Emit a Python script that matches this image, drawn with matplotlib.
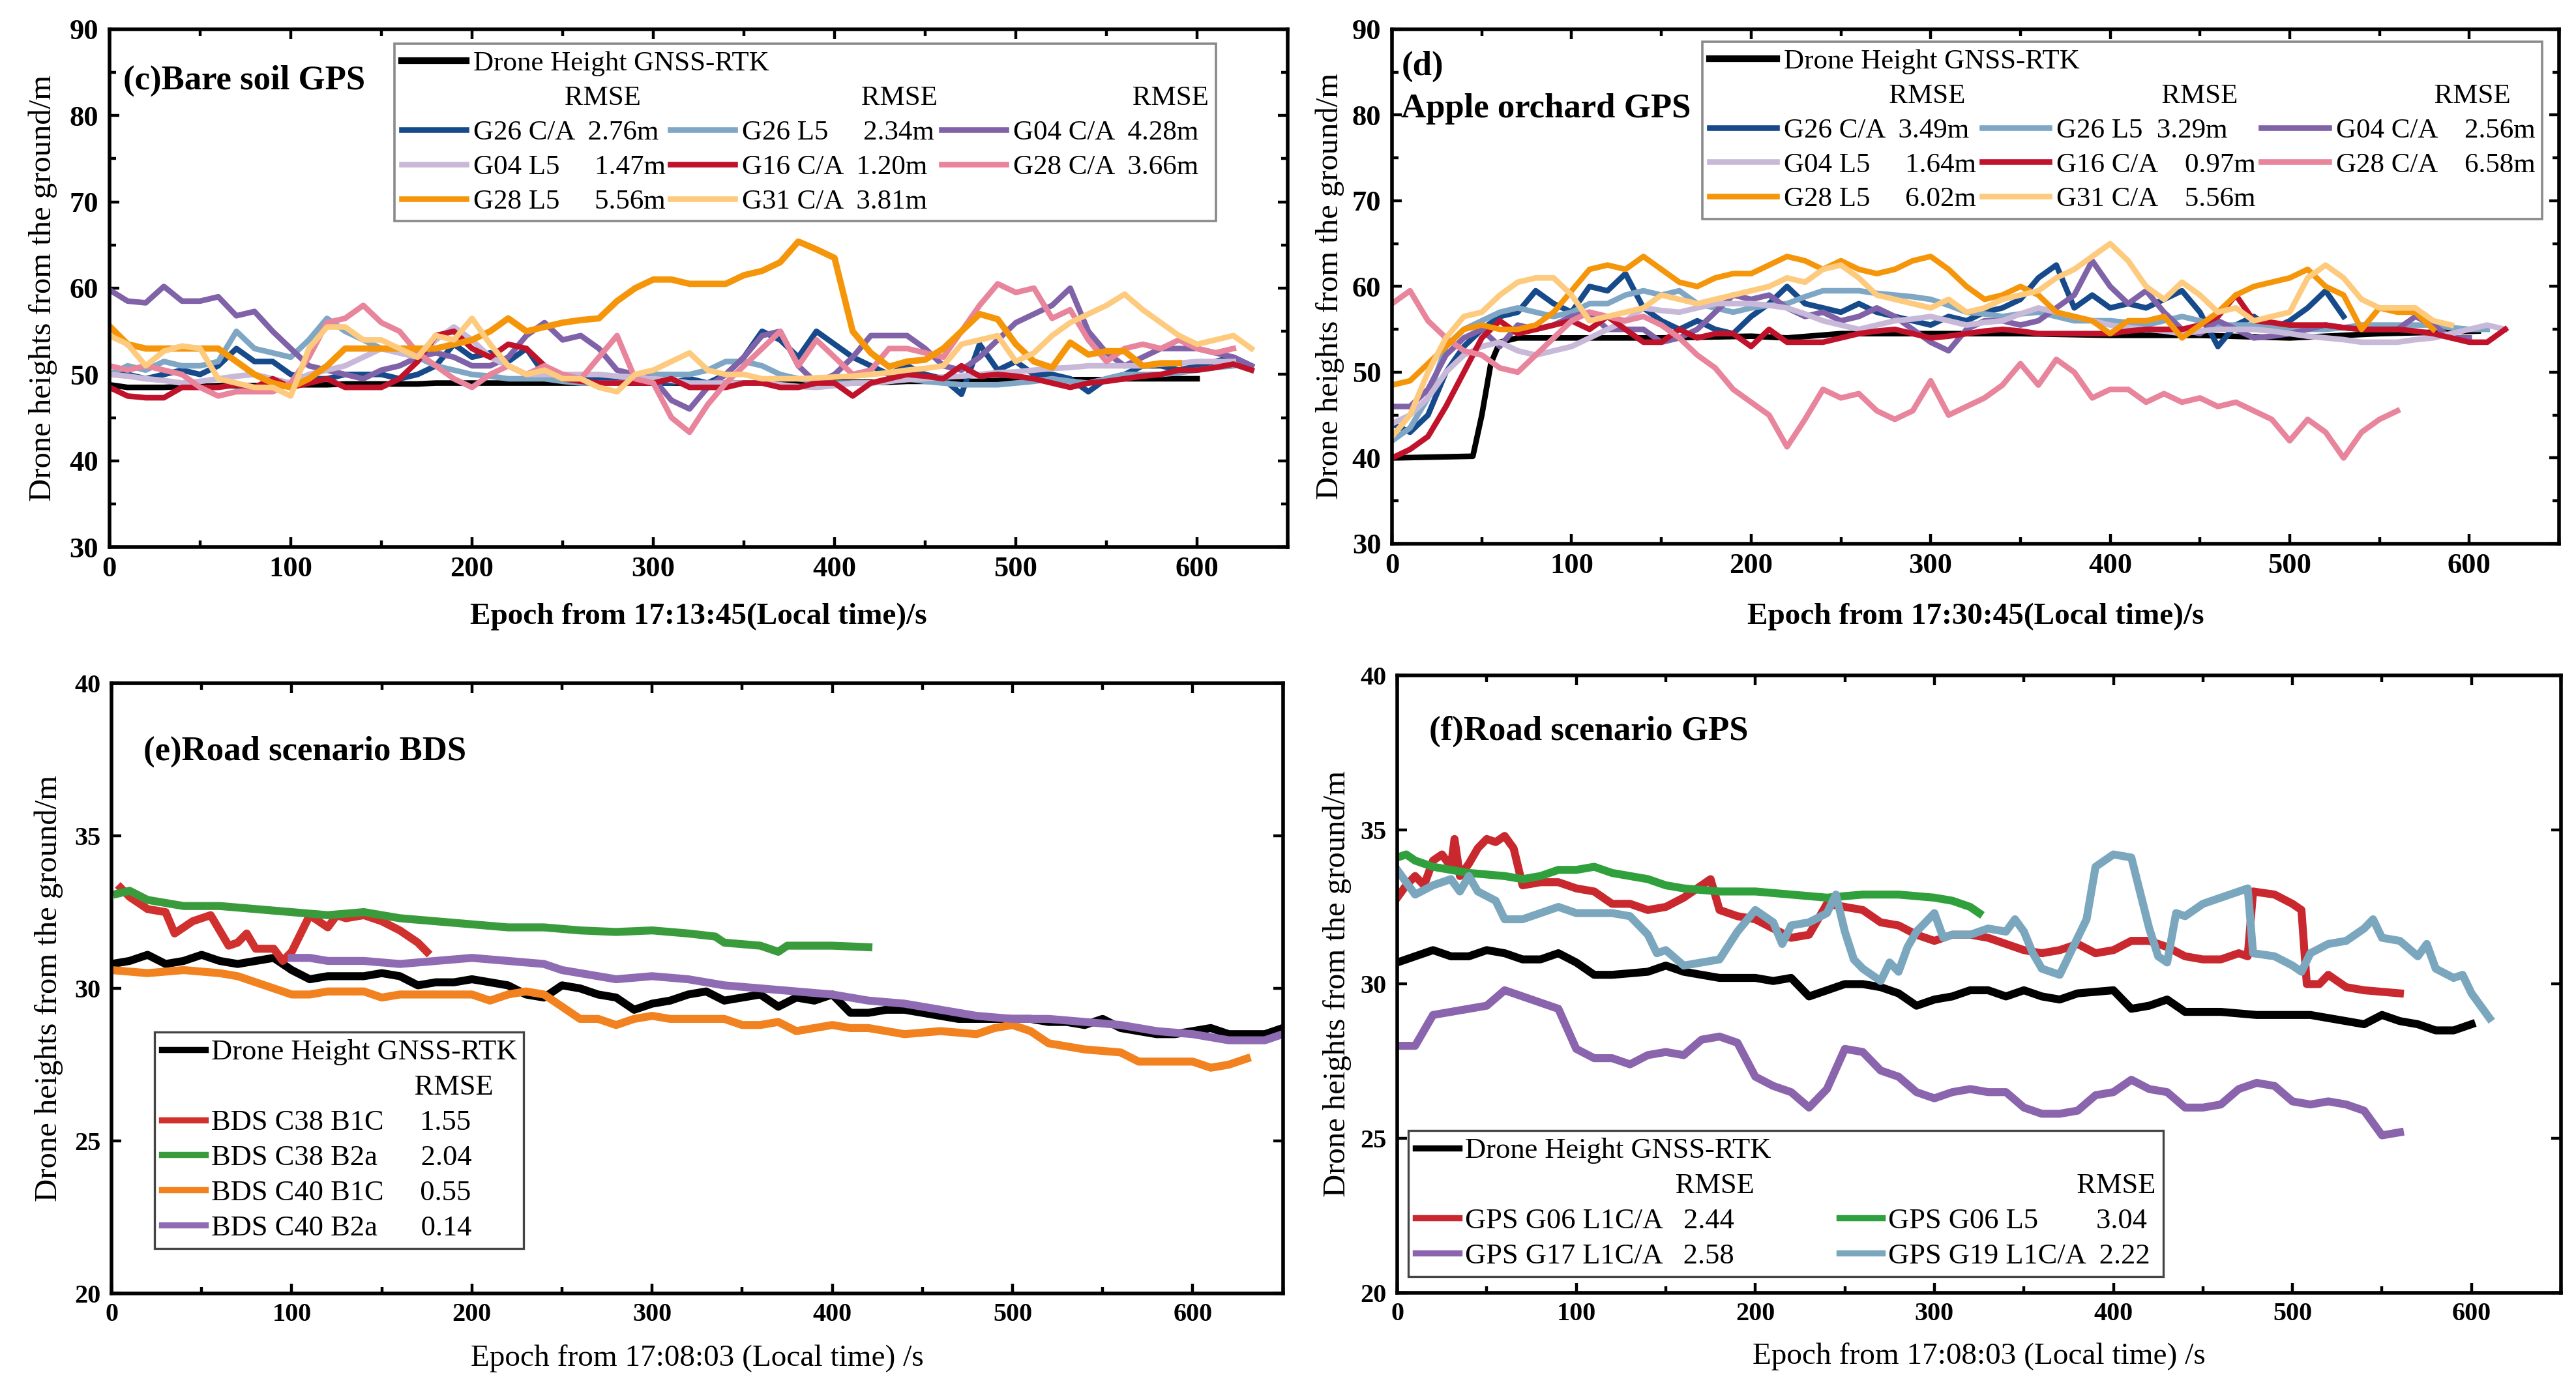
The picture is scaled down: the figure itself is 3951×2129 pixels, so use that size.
import numpy as np
import matplotlib
matplotlib.use('Agg')
import matplotlib.pyplot as plt
from matplotlib.lines import Line2D
from matplotlib.ticker import MultipleLocator

plt.rcParams['font.family'] = ['Liberation Serif', 'DejaVu Serif']

# ---------------- Panel (c) Bare soil GPS : 10 s grid from t=0 ----------------
c_rtk = [48.8, 48.5, 48.5, 48.5, 48.6, 48.6, 48.7, 48.7, 48.7, 48.8,
         48.8, 48.8, 48.8, 48.9, 48.9, 48.9, 48.9, 48.9, 49.0, 49.0,
         49.0, 49.0, 49.0, 49.0, 49.0, 49.0, 49.0, 49.0, 49.0, 49.0,
         49.0, 49.0, 49.0, 49.0, 49.0, 49.0, 49.0, 49.0, 49.0, 49.0,
         49.1, 49.1, 49.1, 49.1, 49.2, 49.2, 49.2, 49.2, 49.2, 49.3,
         49.3, 49.3, 49.3, 49.4, 49.4, 49.4, 49.5, 49.5, 49.5, 49.5, 49.5]
c_g26ca = [50, 50, 49.5, 50, 50.5, 50, 51, 53, 51.5, 51.5,
           50, 49.5, 49.5, 50, 50, 50, 49.5, 50, 51, 53.5,
           52, 52.5, 51.5, 53, 50, 50, 50, 49.5, 49.5, 49,
           49, 49, 49.5, 49, 50, 52, 55, 54, 52, 55,
           53.5, 52, 51, 50, 51, 50, 49.5, 47.7, 53.5, 50.5,
           51.5, 50, 50, 49.5, 48, 49.5, 50, 51, 51, 50.5,
           51, 51.5, 52, 51]
c_g26l5 = [50, 51, 50.5, 51.5, 51, 51, 51.5, 55, 53, 52.5,
           52, 54, 56.5, 55, 54, 53, 52.5, 52, 51, 50.5,
           50, 49.8, 49.5, 49.5, 49.5, 49.2, 49, 49, 49, 49.5,
           50, 50, 50, 50.5, 51.5, 51.5, 51, 50, 49.5, 49.2,
           49, 49, 49, 49.2, 49.5, 49.2, 49, 48.8, 48.8, 48.8,
           49, 49.2, 49.5, 49.2, 49, 49.5, 50, 50, 50, 50.2,
           50.5, 50.8, 51]
c_g04ca = [59.8, 58.5, 58.3, 60.2, 58.5, 58.5, 59, 56.8, 57.3, 55,
           53, 51, 50.5, 50, 49.5, 50.5, 51, 52, 52.5, 52,
           51, 51, 52, 54.5, 56, 54, 54.5, 53, 50.5, 50,
           49.5, 47, 46, 48.5, 50, 52, 54.5, 55, 51, 49,
           50, 52, 54.5, 54.5, 54.5, 53, 51, 50.5, 52, 54,
           56, 57, 58, 60, 55, 52.5, 51, 52, 53, 53,
           53, 52.5, 52, 51]
c_g04l5 = [50, 49.8, 49.5, 49.3, 49, 49.2, 49.5, 49.8, 50, 49.5,
           49, 50, 50.5, 51, 52, 53, 52.5, 52, 54, 55.5,
           54, 52, 51, 50, 50, 50, 50, 50, 49.8, 49.7,
           49.5, 49.3, 49, 49, 49, 49, 49, 48.8, 48.6, 48.5,
           48.7, 49, 49, 49.2, 49.4, 49.5, 49.7, 49.8, 50, 50.2,
           50.3, 50.5, 50.7, 50.8, 51, 51, 51, 51, 51.2, 51.3,
           51.5, 51.5, 51.5]
c_g16ca = [48.5, 47.5, 47.3, 47.3, 48.5, 48.5, 48.5, 48.8, 48.5, 49.5,
           48.5, 49, 49.5, 48.5, 48.5, 48.5, 49.5, 51.5, 54.5, 55,
           53, 52, 53.5, 53, 51, 49.5, 49.2, 49, 49, 49,
           49, 49.5, 48.5, 48.5, 48.5, 49, 49, 48.5, 48.5, 49,
           49, 47.5, 49, 49.5, 50, 49.8, 49.5, 51, 49.8, 50,
           49.8, 49.5, 49, 48.5, 49, 49.2, 49.5, 49.8, 50, 50.5,
           50.5, 50.8, 51.2, 50.5]
c_g28ca = [51, 50.5, 51, 50.5, 50, 48.5, 47.5, 48, 48, 48,
           49, 52, 56, 56.5, 58, 56, 55, 52.5, 51, 49.5,
           48.5, 50, 51, 50, 51, 50, 49.5, 52, 54.5, 49.5,
           49, 45, 43.3, 46.5, 49, 51, 53, 55, 51, 54,
           52, 50, 50.5, 53, 53, 52.5, 52, 55, 58, 60.5,
           59.5, 60, 56.5, 57.5, 54, 51.5, 53, 53.5, 53, 54,
           53, 52.5, 53]
c_g28l5 = [55.6, 53.5, 53, 53, 53, 53, 53, 51.5, 50, 49,
           48.5, 49.5, 51, 53, 53, 53, 53, 53, 53, 53.5,
           54, 55, 56.5, 55, 55.5, 56, 56.3, 56.5, 58.5, 60,
           61, 61, 60.5, 60.5, 60.5, 61.5, 62, 63, 65.4, 64.5,
           63.5, 55, 52.5, 50.9, 51.5, 51.7, 53, 55, 57, 56.4,
           53.5, 51.5, 50.8, 53.7, 52.3, 52.7, 52.7, 51, 51.3, 51.3]
c_g31ca = [54.5, 53.5, 51, 52.7, 53.3, 53, 49.5, 49, 48.5, 48.5,
           47.5, 53, 55.5, 55.5, 54, 54, 53, 52, 54.5, 54,
           56.5, 53.5, 51, 50, 50.5, 49.5, 49.5, 48.5, 48, 50,
           50.5, 51.5, 52.5, 50.5, 50, 50, 49.5, 49.5, 49.5, 49.6,
           49.7, 49.8, 50, 50.2, 50.5, 50.7, 51, 53.5, 54, 54.5,
           51.5, 52.5, 54.5, 56, 57, 58, 59.3, 57.5, 56, 54.5,
           53.5, 54, 54.5, 53]

# ---------------- Panel (d) Apple orchard GPS ----------------
d_rtk_t = [0, 45, 50, 55, 60, 70, 100, 150, 200, 220, 250, 300, 350, 400, 450, 500, 550, 590, 605]
d_rtk_h = [40, 40.2, 45, 51, 53.5, 54, 54, 54, 54.2, 54, 54.5, 54.5, 54.5, 54.3, 54.3, 54, 54.5, 54.7, 54.8]
d_g26ca = [44, 43, 45, 50, 53, 55, 56.5, 57, 59.5, 58,
           57, 60, 59.5, 61.5, 57.5, 56, 55, 56, 55, 54.5,
           56.5, 58, 60, 58, 57.5, 57, 58, 57, 56.5, 56,
           55.5, 56.5, 56, 57, 57.5, 58.5, 61, 62.5, 57.5, 59,
           57.5, 58, 57.5, 58.5, 59.5, 57, 53, 55.5, 56.5, 55,
           56, 57.5, 59.5, 56.5]
d_g26l5 = [42, 43.5, 47, 53, 55, 56, 57, 57.5, 57, 56.5,
           57, 58, 58, 59, 59.5, 59, 59.5, 58, 57.5, 57,
           57.5, 57.8, 58, 58.8, 59.5, 59.5, 59.5, 59.2, 59, 58.8,
           58.5, 57.8, 57, 56.8, 56.5, 56.8, 57, 56.5, 56, 56,
           56, 55.8, 55.5, 56, 56.5, 56, 55.5, 55.5, 55.5, 55.2,
           55, 55, 55, 55.2, 55.5, 55.5, 55.5, 55.5, 55.5, 55.2,
           55, 55]
d_g04ca = [46, 46, 48, 52, 54, 55, 53, 55.5, 55, 55.5,
           56.5, 57, 55, 55, 55, 53.5, 54, 55, 57, 59,
           58.5, 59, 57.5, 56.5, 57, 56, 56.5, 57.5, 56.5, 55,
           53.5, 52.5, 55, 56, 56, 55.5, 56, 57.5, 59, 63,
           60, 58, 59.5, 57, 55, 54.5, 56, 55, 54, 54.2,
           54.5, 55, 55.5, 55.2, 55, 55, 55, 56.5, 55.5, 54, 54]
d_g04l5 = [44, 45, 47, 50, 52, 53, 53.5, 52.5, 52, 52.5,
           53, 54, 55, 56, 57.5, 57.2, 57, 57.5, 58, 58,
           58, 57.8, 57.5, 56.8, 56, 55.5, 55, 55.5, 56, 56.2,
           56.5, 56, 55.5, 55.8, 56, 56.8, 57.5, 57, 56.5, 56,
           55.5, 55.2, 55, 54.8, 54.5, 54.8, 55, 55, 55, 54.8,
           54.5, 54.2, 54, 53.8, 53.5, 53.5, 53.5, 53.8, 54, 54.5,
           55, 55.5, 55]
d_g16ca = [40, 41, 42.5, 46, 50, 54, 56, 54.5, 55, 55.5,
           56, 55, 56.5, 55, 53.5, 53.5, 55, 54, 54.5, 54.5,
           53, 55, 53.5, 53.5, 53.5, 54, 54.5, 54.8, 55, 54.5,
           54, 54.2, 54.5, 54.8, 55, 54.8, 54.5, 54.5, 54.5, 54.5,
           54.5, 54.8, 55, 55, 55, 55.5, 56.5, 59, 56, 55.8,
           55.5, 55.5, 55.5, 55.2, 55, 55, 55, 54.8, 54.5, 54,
           53.5, 53.5, 55]
d_g28ca = [58, 59.5, 56, 54, 52.5, 52, 50.5, 50, 52, 54,
           56, 57, 56.5, 56, 56.5, 55.5, 54, 52, 50.5, 48,
           46.5, 45, 41.3, 44.5, 48, 47, 47.5, 45.5, 44.5, 45.5,
           49, 45, 46, 47, 48.5, 51, 48.5, 51.5, 50, 47,
           48, 48, 46.5, 47.5, 46.5, 47, 46, 46.5, 45.5, 44.5,
           42, 44.5, 43, 40, 43, 44.5, 45.5]
d_g28l5 = [48.5, 49, 51, 53, 55, 55.5, 55, 55, 55.5, 57,
           59.5, 62, 62.5, 62, 63.5, 62, 60.5, 60, 61, 61.5,
           61.5, 62.5, 63.5, 63, 62, 63, 62, 61.5, 62, 63,
           63.5, 62, 60, 58.5, 59, 60, 59, 57, 56.5, 56,
           54.5, 56, 56, 56.5, 54, 55.5, 57, 59, 60, 60.5,
           61, 62, 60, 59, 55, 57.5, 57, 57, 55]
d_g31ca = [42.5, 45, 50, 54, 56.5, 57, 59, 60.5, 61, 61,
           59, 56, 56.5, 57, 57.5, 59, 58.5, 58, 58.5, 59,
           59.5, 60, 61, 60.5, 62, 62.5, 61, 59, 58.5, 58,
           57.5, 58.5, 57, 57.5, 58.5, 59, 59.5, 61, 62, 63.5,
           65, 63, 60, 58.5, 60.5, 59, 57, 57.5, 56, 56.5,
           57, 61, 62.5, 61, 58.5, 57.5, 57.5, 57.5, 56, 55.5]

# ---------------- Panel (e) Road scenario BDS ----------------
e_rtk = [30.8, 30.9, 31.1, 30.8, 30.9, 31.1, 30.9, 30.8, 30.9, 31.0,
         30.6, 30.3, 30.4, 30.4, 30.4, 30.5, 30.4, 30.1, 30.2, 30.2,
         30.3, 30.2, 30.1, 29.8, 29.7, 30.1, 30.0, 29.8, 29.7, 29.3,
         29.5, 29.6, 29.8, 29.9, 29.6, 29.7, 29.8, 29.4, 29.7, 29.6,
         29.8, 29.2, 29.2, 29.3, 29.3, 29.2, 29.1, 29.0, 29.0, 29.0,
         29.0, 29.0, 28.9, 28.9, 28.8, 29.0, 28.7, 28.6, 28.5, 28.5,
         28.6, 28.7, 28.5, 28.5, 28.5, 28.7]
e_c38b1c_t = [5, 10, 20, 30, 35, 45, 55, 60, 65, 70, 75, 80, 90, 95, 100, 105, 110, 120, 125, 130, 140, 150, 160, 170, 175]
e_c38b1c_h = [33.3, 33.0, 32.6, 32.5, 31.8, 32.2, 32.4, 31.9, 31.4, 31.5, 31.8, 31.3, 31.3, 30.9, 31.2, 31.8, 32.4, 32.0, 32.4, 32.3, 32.4, 32.2, 31.9, 31.5, 31.2]
e_c38b2a_t = [3, 10, 20, 30, 40, 60, 80, 100, 120, 140, 160, 180, 200, 220, 240, 260, 280, 300, 320, 335, 340, 360, 370, 375, 400, 420]
e_c38b2a_h = [33.1, 33.2, 32.9, 32.8, 32.7, 32.7, 32.6, 32.5, 32.4, 32.5, 32.3, 32.2, 32.1, 32.0, 32.0, 31.9, 31.85, 31.9, 31.8, 31.7, 31.5, 31.4, 31.2, 31.4, 31.4, 31.35]
e_c40b1c = [30.6, 30.55, 30.5, 30.55, 30.6, 30.55, 30.5, 30.4, 30.2, 30.0,
            29.8, 29.8, 29.9, 29.9, 29.9, 29.7, 29.8, 29.8, 29.8, 29.8,
            29.8, 29.6, 29.8, 29.9, 29.8, 29.4, 29.0, 29.0, 28.8, 29.0,
            29.1, 29.0, 29.0, 29.0, 29.0, 28.8, 28.8, 28.9, 28.6, 28.7,
            28.8, 28.7, 28.7, 28.6, 28.5, 28.55, 28.6, 28.55, 28.5, 28.7,
            28.8, 28.6, 28.2, 28.1, 28.0, 27.95, 27.9, 27.6, 27.6, 27.6,
            27.6, 27.4, 27.5, 27.7]
e_c40b2a = [31.0, 31.0, 30.9, 30.9, 30.9, 30.85, 30.8, 30.85, 30.9, 30.95,
            31.0, 30.95, 30.9, 30.85, 30.8, 30.6, 30.5, 30.4, 30.3, 30.35,
            30.4, 30.35, 30.3, 30.2, 30.1, 30.05, 30.0, 29.95, 29.9, 29.85,
            29.8, 29.7, 29.6, 29.55, 29.5, 29.4, 29.3, 29.2, 29.1, 29.05,
            29.0, 29.0, 29.0, 28.95, 28.9, 28.85, 28.8, 28.7, 28.6, 28.55,
            28.5, 28.4, 28.3, 28.3, 28.3, 28.5]

# ---------------- Panel (f) Road scenario GPS ----------------
f_rtk = [30.7, 30.9, 31.1, 30.9, 30.9, 31.1, 31.0, 30.8, 30.8, 31.0,
         30.7, 30.3, 30.3, 30.35, 30.4, 30.6, 30.4, 30.3, 30.2, 30.2,
         30.2, 30.1, 30.2, 29.6, 29.8, 30.0, 30.0, 29.9, 29.7, 29.3,
         29.5, 29.6, 29.8, 29.8, 29.6, 29.8, 29.6, 29.5, 29.7, 29.75,
         29.8, 29.2, 29.3, 29.5, 29.1, 29.1, 29.1, 29.05, 29.0, 29.0,
         29.0, 29.0, 28.9, 28.8, 28.7, 29.0, 28.8, 28.7, 28.5, 28.5, 28.7]
f_g06l1_t = [0, 5, 10, 15, 20, 25, 30, 32, 35, 40, 45, 50, 55, 60, 65, 70, 80, 90, 100, 110,
             120, 130, 140, 150, 160, 170, 175, 180, 190, 200, 210, 220, 230, 240, 250, 260, 270, 280, 290, 300,
             310, 320, 330, 340, 350, 360, 370, 380, 390, 400, 410, 420, 430, 440, 450, 460, 470, 475, 478, 490,
             500, 505, 508, 515, 520, 530, 540, 560]
f_g06l1_h = [32.8, 33.2, 33.5, 33.2, 34.0, 34.2, 33.8, 34.7, 33.5, 33.9, 34.4, 34.7, 34.6, 34.8, 34.4, 33.2, 33.3, 33.3, 33.1, 33.0,
             32.6, 32.6, 32.4, 32.5, 32.8, 33.2, 33.4, 32.4, 32.2, 32.1, 31.8, 31.5, 31.6, 32.6, 32.5, 32.4, 32.0, 31.9, 31.6, 31.4,
             31.6, 31.6, 31.5, 31.3, 31.1, 31.0, 31.1, 31.3, 31.0, 31.1, 31.4, 31.4, 31.2, 30.9, 30.8, 30.8, 31.0, 30.9, 33.0, 32.9,
             32.6, 32.4, 30.0, 30.0, 30.3, 29.9, 29.8, 29.7]
f_g06l5_t = [0, 5, 10, 20, 30, 40, 60, 70, 80, 90, 100, 110, 120, 140, 150, 160, 180, 200, 220, 240, 260, 280, 300, 310, 320, 325]
f_g06l5_h = [34.1, 34.2, 34.0, 33.8, 33.7, 33.6, 33.5, 33.4, 33.5, 33.7, 33.7, 33.8, 33.6, 33.4, 33.2, 33.1, 33.0, 33.0, 32.9, 32.8, 32.9, 32.9, 32.8, 32.7, 32.5, 32.3]
f_g17l1 = [28.0, 28.0, 29.0, 29.1, 29.2, 29.3, 29.8, 29.6, 29.4, 29.2,
           27.9, 27.6, 27.6, 27.4, 27.7, 27.8, 27.7, 28.2, 28.3, 28.1,
           27.0, 26.7, 26.5, 26.0, 26.6, 27.9, 27.8, 27.2, 27.0, 26.5,
           26.3, 26.5, 26.6, 26.5, 26.5, 26.0, 25.8, 25.8, 25.9, 26.4,
           26.5, 26.9, 26.6, 26.5, 26.0, 26.0, 26.1, 26.6, 26.8, 26.7,
           26.2, 26.1, 26.2, 26.1, 25.9, 25.1, 25.2]
f_g19l1_t = [0, 5, 10, 20, 30, 35, 40, 45, 55, 60, 70, 80, 90, 100, 110, 120, 130, 140, 145, 150,
             160, 170, 180, 190, 200, 210, 215, 220, 230, 240, 245, 250, 255, 260, 270, 275, 280, 285, 290, 300,
             305, 310, 320, 330, 340, 345, 350, 355, 360, 370, 380, 385, 390, 400, 410, 420, 425, 430, 435, 440,
             450, 460, 470, 475, 478, 490, 500, 505, 510, 520, 530, 540, 545, 550, 560, 570, 575, 580, 590, 595,
             600, 610]
f_g19l1_h = [33.7, 33.3, 32.9, 33.2, 33.4, 33.0, 33.5, 33.0, 32.7, 32.1, 32.1, 32.3, 32.5, 32.3, 32.3, 32.3, 32.2, 31.6, 31.0, 31.1,
             30.6, 30.7, 30.8, 31.7, 32.4, 32.0, 31.3, 31.9, 32.0, 32.3, 32.9, 31.7, 30.8, 30.5, 30.1, 30.7, 30.4, 31.2, 31.7, 32.3,
             31.5, 31.6, 31.6, 31.8, 31.7, 32.1, 31.7, 31.0, 30.5, 30.3, 31.5, 32.1, 33.8, 34.2, 34.1, 31.8, 30.9, 30.7, 32.3, 32.2,
             32.6, 32.8, 33.0, 33.1, 31.0, 30.9, 30.6, 30.4, 31.0, 31.3, 31.4, 31.8, 32.1, 31.5, 31.4, 30.9, 31.3, 30.5, 30.2, 30.3,
             29.7, 28.9]

# legend texts
c_labels = ["G26 C/A  2.76m", "G04 L5     1.47m", "G28 L5     5.56m",
            "G26 L5     2.34m", "G16 C/A  1.20m", "G31 C/A  3.81m",
            "G04 C/A  4.28m", "G28 C/A  3.66m"]
d_labels = ["G26 C/A  3.49m", "G04 L5     1.64m", "G28 L5     6.02m",
            "G26 L5  3.29m", "G16 C/A    0.97m", "G31 C/A    5.56m",
            "G04 C/A    2.56m", "G28 C/A    6.58m"]
e_labels = ["BDS C38 B1C     1.55", "BDS C38 B2a      2.04", "BDS C40 B1C     0.55", "BDS C40 B2a      0.14"]
f_labels = ["GPS G06 L1C/A   2.44", "GPS G17 L1C/A   2.58", "GPS G06 L5        3.04", "GPS G19 L1C/A  2.22"]

COL = dict(g26ca='#164a8a', g26l5='#7fa7c5', g04ca='#7f62a8', g04l5='#c9b9d9',
           g16ca='#c0122b', g28ca='#e8849b', g28l5='#f5960a', g31ca='#fdca7e')


def tgrid(start, vals):
    return start + 10 * np.arange(len(vals))


fig = plt.figure(figsize=(19.755, 10.645), dpi=200)
axc = fig.add_axes([0.0425, 0.6059, 0.4574, 0.3730])
axd = fig.add_axes([0.5404, 0.6083, 0.4530, 0.3706])
axe = fig.add_axes([0.0433, 0.0681, 0.4547, 0.4396])
axf = fig.add_axes([0.5424, 0.0686, 0.4518, 0.4448])


def style(ax, ylim, ymaj, ymin, fs, xlabel, xbold, xly, ylx):
    ax.set_xlim(0, 650)
    ax.set_ylim(*ylim)
    ax.xaxis.set_major_locator(MultipleLocator(100))
    ax.xaxis.set_minor_locator(MultipleLocator(50))
    ax.yaxis.set_major_locator(MultipleLocator(ymaj))
    if ymin:
        ax.yaxis.set_minor_locator(MultipleLocator(ymin))
    ax.tick_params(which='both', direction='in', top=True, right=True, width=1.6)
    ax.tick_params(which='major', length=5.5)
    ax.tick_params(which='minor', length=3.5)
    ax.tick_params(axis='x', pad=5)
    ax.tick_params(axis='y', pad=6)
    for lab in ax.get_xticklabels() + ax.get_yticklabels():
        lab.set_fontweight('bold')
        lab.set_fontsize(fs)
    for sp in ax.spines.values():
        sp.set_linewidth(2.0)
    ax.set_xlabel(xlabel, fontsize=17, fontweight='bold' if xbold else 'normal')
    ax.xaxis.set_label_coords(0.5, xly)
    ax.set_ylabel('Drone heights from the ground/m', fontsize=17.5)
    ax.yaxis.set_label_coords(ylx, 0.5)


LW = 3.1
# ---- (c)
axc.plot(tgrid(0, c_rtk), c_rtk, color='black', lw=LW)
axc.plot(tgrid(0, c_g26ca), c_g26ca, color=COL['g26ca'], lw=LW)
axc.plot(tgrid(0, c_g26l5), c_g26l5, color=COL['g26l5'], lw=LW)
axc.plot(tgrid(0, c_g04ca), c_g04ca, color=COL['g04ca'], lw=LW)
axc.plot(tgrid(0, c_g04l5), c_g04l5, color=COL['g04l5'], lw=LW)
axc.plot(tgrid(0, c_g16ca), c_g16ca, color=COL['g16ca'], lw=LW)
axc.plot(tgrid(0, c_g28ca), c_g28ca, color=COL['g28ca'], lw=LW)
axc.plot(tgrid(0, c_g28l5), c_g28l5, color=COL['g28l5'], lw=LW + 0.4)
axc.plot(tgrid(0, c_g31ca), c_g31ca, color=COL['g31ca'], lw=LW)
style(axc, (30, 90), 10, 5, 16, 'Epoch from 17:13:45(Local time)/s', True, -0.108, -0.044)
axc.text(0.0116, 0.90, '(c)Bare soil GPS', transform=axc.transAxes, fontsize=19,
         fontweight='bold', va='center', ha='left')

# ---- (d)
axd.plot(d_rtk_t, d_rtk_h, color='black', lw=LW)
axd.plot(tgrid(0, d_g26ca), d_g26ca, color=COL['g26ca'], lw=LW)
axd.plot(tgrid(0, d_g26l5), d_g26l5, color=COL['g26l5'], lw=LW)
axd.plot(tgrid(0, d_g04ca), d_g04ca, color=COL['g04ca'], lw=LW)
axd.plot(tgrid(0, d_g04l5), d_g04l5, color=COL['g04l5'], lw=LW)
axd.plot(tgrid(0, d_g16ca), d_g16ca, color=COL['g16ca'], lw=LW)
axd.plot(tgrid(0, d_g28ca), d_g28ca, color=COL['g28ca'], lw=LW)
axd.plot(tgrid(0, d_g28l5), d_g28l5, color=COL['g28l5'], lw=LW)
axd.plot(tgrid(0, d_g31ca), d_g31ca, color=COL['g31ca'], lw=LW)
style(axd, (30, 90), 10, 5, 16, 'Epoch from 17:30:45(Local time)/s', True, -0.115, -0.041)
axd.text(0.008, 0.928, '(d)', transform=axd.transAxes, fontsize=19,
         fontweight='bold', va='center', ha='left')
axd.text(0.008, 0.845, 'Apple orchard GPS', transform=axd.transAxes, fontsize=19,
         fontweight='bold', va='center', ha='left')


def blank():
    return Line2D([], [], linestyle='none')


def top_legend(ax, labels, hdrs, box, fs, hl):
    keys = ['g26ca', 'g04l5', 'g28l5', 'g26l5', 'g16ca', 'g31ca', 'g04ca', 'g28ca']
    hs = [Line2D([], [], color=COL[k], lw=LW) for k in keys]
    handles = [blank(), blank()] + hs[0:3] + [blank(), blank()] + hs[3:6] + [blank(), blank()] + hs[6:8] + [blank()]
    labs = [' ', hdrs[0]] + labels[0:3] + [' ', hdrs[1]] + labels[3:6] + [' ', hdrs[2]] + labels[6:8] + [' ']
    x0, y1, x1 = box
    leg = ax.legend(handles, labs, ncol=3, loc='upper left', bbox_to_anchor=(x0, y1, x1 - x0, 0),
                    mode='expand', borderaxespad=0, fontsize=fs, handlelength=hl, handletextpad=0.25,
                    labelspacing=0.32, borderpad=0.25, columnspacing=0.5, frameon=True, fancybox=False,
                    edgecolor='#8a8a8a', framealpha=1)
    leg.get_frame().set_linewidth(1.3)
    ax.add_artist(leg)
    leg2 = ax.legend([Line2D([], [], color='black', lw=LW + 0.6)], ['Drone Height GNSS-RTK'],
                     loc='upper left', bbox_to_anchor=(x0, y1), borderaxespad=0, fontsize=fs,
                     handlelength=hl, handletextpad=0.25, borderpad=0.25, frameon=False)
    return leg2


top_legend(axc, c_labels, [' ' * 13 + 'RMSE', ' ' * 17 + 'RMSE', ' ' * 17 + 'RMSE'],
           (0.242, 0.972, 0.939), 15.5, 2.3)
top_legend(axd, d_labels, [' ' * 15 + 'RMSE', ' ' * 15 + 'RMSE', ' ' * 14 + 'RMSE'],
           (0.266, 0.976, 0.9855), 15.5, 2.4)

LW2 = 4.4
# ---- (e)
le0, = axe.plot(tgrid(0, e_rtk), e_rtk, color='black', lw=LW2)
le1, = axe.plot(e_c38b1c_t, e_c38b1c_h, color='#d0302e', lw=LW2)
le2, = axe.plot(e_c38b2a_t, e_c38b2a_h, color='#3a9b3c', lw=LW2)
le3, = axe.plot(tgrid(0, e_c40b1c), e_c40b1c, color='#f2811f', lw=LW2)
le4, = axe.plot(tgrid(100, e_c40b2a), e_c40b2a, color='#8e6bb3', lw=LW2)
style(axe, (20, 40), 5, None, 14.5, 'Epoch from 17:08:03 (Local time) /s', False, -0.084, -0.041)
axe.text(0.027, 0.888, '(e)Road scenario BDS', transform=axe.transAxes, fontsize=19,
         fontweight='bold', va='center', ha='left')
hs = [Line2D([], [], color=l.get_color(), lw=3.4) for l in (le0, le1, le2, le3, le4)]
lege = axe.legend([hs[0], blank()] + hs[1:], ['Drone Height GNSS-RTK', ' ' * 28 + 'RMSE'] + e_labels,
                  loc='upper left', bbox_to_anchor=(0.0367, 0.4284, 0.3153, 0), mode='expand',
                  borderaxespad=0, fontsize=16, handlelength=1.5, handletextpad=0.2, labelspacing=0.31,
                  borderpad=0.25, frameon=True, fancybox=False, edgecolor='#444444', framealpha=1)
lege.get_frame().set_linewidth(1.2)

# ---- (f)
lf0, = axf.plot(tgrid(0, f_rtk), f_rtk, color='black', lw=LW2)
lf1, = axf.plot(f_g06l1_t, f_g06l1_h, color='#c8282e', lw=LW2)
lf2, = axf.plot(f_g06l5_t, f_g06l5_h, color='#2fa03b', lw=LW2)
lf3, = axf.plot(tgrid(0, f_g17l1), f_g17l1, color='#8a65ad', lw=LW2)
lf4, = axf.plot(f_g19l1_t, f_g19l1_h, color='#7ba7be', lw=LW2)
style(axf, (20, 40), 5, None, 14.5, 'Epoch from 17:08:03 (Local time) /s', False, -0.080, -0.039)
axf.text(0.0275, 0.909, '(f)Road scenario GPS', transform=axf.transAxes, fontsize=19,
         fontweight='bold', va='center', ha='left')
hf = [Line2D([], [], color=l.get_color(), lw=3.4) for l in (lf0, lf1, lf2, lf3, lf4)]
legf = axf.legend([hf[0], blank(), hf[1], hf[3], blank(), blank(), hf[2], hf[4]],
                  ['Drone Height GNSS-RTK', ' ' * 29 + 'RMSE', f_labels[0], f_labels[1],
                   ' ', ' ' * 26 + 'RMSE', f_labels[2], f_labels[3]],
                  ncol=2, loc='upper left', bbox_to_anchor=(0.0095, 0.263, 0.6485, 0), mode='expand',
                  borderaxespad=0, fontsize=16, handlelength=1.5, handletextpad=0.2, labelspacing=0.31,
                  borderpad=0.25, columnspacing=1.0, frameon=True, fancybox=False, edgecolor='#444444',
                  framealpha=1)
legf.get_frame().set_linewidth(1.2)

fig.savefig('out.png', dpi=200)
